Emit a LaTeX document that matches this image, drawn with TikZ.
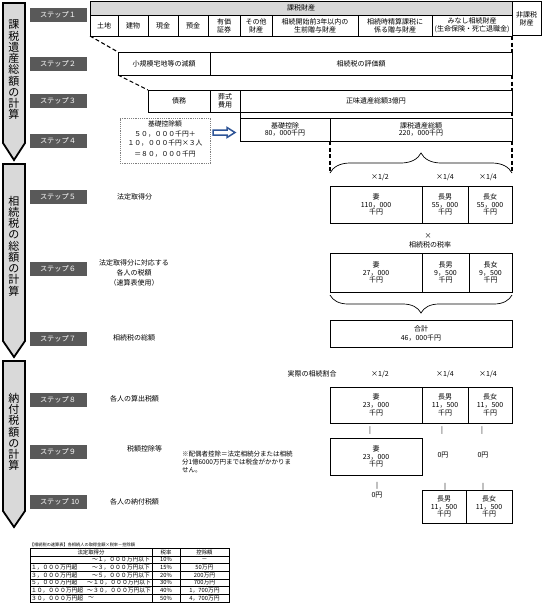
\documentclass[tikz,border=0pt]{standalone}
\usepackage{fontspec}
\setmainfont{Noto Sans CJK JP}
\usetikzlibrary{decorations.pathreplacing}
\definecolor{stepgray}{HTML}{595959}
\definecolor{arrowgray}{HTML}{D9D9D9}
\definecolor{hdrgray}{HTML}{D9D9D9}
\definecolor{arrowblue}{HTML}{2F5597}
\newcommand\fMain{\fontsize{7}{7.8}\selectfont}
\newcommand\fSix{\fontsize{7}{9.8}\selectfont}
\newcommand\fStep{\fontsize{7.2}{8}\selectfont}
\newcommand\fBig{\fontsize{11}{11.25}\selectfont}
\newcommand\fDot{\fontsize{6.8}{10}\selectfont}
\newcommand\fNote{\fontsize{6.5}{8}\selectfont}
\newcommand\fTbl{\fontsize{5.8}{6.5}\selectfont}
\newcommand\fTh{\fontsize{5.4}{6}\selectfont}
\newcommand\fCap{\fontsize{4.2}{5}\selectfont}
\newcommand\mycell[7][]{\node[cellbox,#1,minimum width={(#5-#3)*1pt},minimum height={(#6-#4)*1pt}] (#2) at ({(#3+#5)/2},{(#4+#6)/2}) {#7};}
\begin{document}
\begin{tikzpicture}[x=1pt,y=-1pt,
  every node/.style={inner sep=0pt,outer sep=0pt},
  cellbox/.style={draw=black,line width=0.7pt,align=center,font=\fMain},
  stepbox/.style={fill=stepgray,text=white,font=\fStep,minimum width=57pt,minimum height=14pt,text width=37pt,align=left},
  lbl/.style={font=\fMain,align=center},
  bigarrow/.style={draw=black,line width=1.8pt,fill=arrowgray,line join=miter},
  vtext/.style={font=\fBig,align=center},
  dashln/.style={line width=1.1pt,dash pattern=on 4pt off 2.5pt},
  solidln/.style={line width=0.7pt},
  brc/.style={line width=0.7pt,decorate},
  tcell/.style={draw=black,line width=0.45pt,font=\fTbl,align=center},
  ttxt/.style={font=\fTbl}
]
\fill[white] (0,0) rectangle (542,603);
\useasboundingbox (0,0) rectangle (542,603);

% big left arrows
\draw[bigarrow] (3,3) -- (25,3) -- (25,143) -- (14,160) -- (3,143) -- cycle;
\node[vtext] (v1) at (14,70) {課\\税\\遺\\産\\総\\額\\の\\計\\算};
\draw[bigarrow] (3,164) -- (25,164) -- (25,341) -- (14,357) -- (3,341) -- cycle;
\node[vtext] (v2) at (14,246) {相\\続\\税\\の\\総\\額\\の\\計\\算};
\draw[bigarrow] (3,361) -- (25,361) -- (25,511) -- (14,527) -- (3,511) -- cycle;
\node[vtext] (v3) at (14,432) {納\\付\\税\\額\\の\\計\\算};

% step labels
\node[stepbox] (s1) at (58.5,15) {ステップ１};
\node[stepbox] (s2) at (58.5,63.5) {ステップ２};
\node[stepbox] (s3) at (58.5,100.5) {ステップ３};
\node[stepbox] (s4) at (58.5,141) {ステップ４};
\node[stepbox] (s5) at (58.5,197) {ステップ５};
\node[stepbox] (s6) at (58.5,268.5) {ステップ６};
\node[stepbox] (s7) at (58.5,338.5) {ステップ７};
\node[stepbox] (s8) at (58.5,400) {ステップ８};
\node[stepbox] (s9) at (58.5,451.5) {ステップ９};
\node[stepbox] (s10) at (58.5,501.5) {\mbox{ステップ 10}};

% step 1
\mycell[fill=hdrgray]{hdr}{90}{1.5}{512}{15}{課税財産}
\mycell{hika}{512}{1.5}{541}{35.5}{非課税\\財産}
\mycell{tochi}{90}{15}{118}{36}{土地}
\mycell{tatemono}{118}{15}{148}{36}{建物}
\mycell{genkin}{148}{15}{178}{36}{現金}
\mycell{yokin}{178}{15}{208}{36}{預金}
\mycell{yuka}{208}{15}{240}{36}{有価\\証券}
\mycell{sonota}{240}{15}{272}{36}{その他\\財産}
\mycell{seizen}{272}{15}{358}{36}{相続開始前3年以内の\\生前贈与財産}
\mycell{seisan}{358}{15}{432}{36}{相続時精算課税に\\係る贈与財産}
\mycell{minashi}{432}{15}{512}{36}{みなし相続財産\\(生命保険・死亡退職金)}

% step 2
\mycell{shokibo}{118}{52}{210}{75}{小規模宅地等の減額}
\mycell{hyoka}{210}{52}{512}{75}{相続税の評価額}
\draw[dashln] (tochi.south west) -- (shokibo.north west);
\draw[dashln] (minashi.south east) -- (hyoka.north east);

% step 3
\mycell{saimu}{148}{90}{210}{112}{債務}
\mycell{soshiki}{210}{90}{240}{112}{葬式\\費用}
\mycell{shomi}{240}{90}{512}{112}{正味遺産総額3億円}
\draw[dashln] (shokibo.south west) -- (saimu.north west);
\draw[dashln] (hyoka.south east) -- (shomi.north east);

% step 4
\mycell{kiso}{240}{118}{330}{141}{基礎控除\\80，000千円}
\mycell{kazei}{330}{118}{512}{141}{課税遺産総額\\220，000千円}
\draw[solidln] (soshiki.south east) -- (kiso.north west);
\draw[dashln] (shomi.south east) -- (kazei.north east);
\node[draw=gray,line width=0.8pt,dash pattern=on 1.2pt off 1pt,minimum width=90pt,minimum height=45.5pt] (kisobox) at (165,141) {};
\node[font=\fDot,align=center] (kisotxt) at (165,138.5) {基礎控除額\\５０，０００千円＋\\１０，０００千円×３人\\＝８０，０００千円};
\draw[line width=1.5pt,draw=arrowblue,fill=white,line join=miter] (213,130) -- (227,130) -- (227,127.5) -- (235,132.5) -- (227,137.5) -- (227,135) -- (213,135) -- cycle;

% step 5
\coordinate (b1l) at (330,173);
\coordinate (b1r) at (512,173);
\draw[dashln] (kazei.south west) -- (b1l);
\draw[dashln] (kazei.south east) -- (b1r);
\draw[brc,decoration={brace,amplitude=20pt}] (b1l) -- (b1r);
\node[lbl] (r5a) at (380,177) {×1/2};
\node[lbl] (r5b) at (445,177) {×1/4};
\node[lbl] (r5c) at (488,177) {×1/4};
\mycell{tsuma5}{330}{186}{422}{223}{妻\\110，000\\千円}
\mycell{chonan5}{422}{186}{468}{223}{長男\\55，000\\千円}
\mycell{chojo5}{468}{186}{512}{223}{長女\\55，000\\千円}
\node[lbl,anchor=west] (l5) at (117,197) {法定取得分};

% step 6
\node[lbl] (x6) at (428,236) {×};
\node[lbl] (zeiritsu) at (430,245) {相続税の税率};
\mycell{tsuma6}{330}{253}{422}{292}{妻\\27，000\\千円}
\mycell{chonan6}{422}{253}{469}{292}{長男\\9，500\\千円}
\mycell{chojo6}{469}{253}{512}{292}{長女\\9，500\\千円}
\coordinate (b2r) at (512,295);
\coordinate (b2l) at (330,295);
\draw[brc,decoration={brace,amplitude=18pt}] (b2r) -- (b2l);
\node[font=\fSix,align=center] (l6) at (134,273) {法定取得分に対応する\\各人の税額\\（速算表使用）};

% step 7
\mycell[font=\fSix]{gokei}{330}{320}{512}{347}{合計\\46，000千円}
\node[lbl,anchor=west] (l7) at (113,338) {相続税の総額};

% step 8
\node[lbl] (jissai) at (312,374) {実際の相続割合};
\node[lbl] (r8a) at (380,374) {×1/2};
\node[lbl] (r8b) at (445,374) {×1/4};
\node[lbl] (r8c) at (488,374) {×1/4};
\mycell{tsuma8}{330}{387}{422}{423}{妻\\23，000\\千円}
\mycell{chonan8}{422}{387}{468}{423}{長男\\11，500\\千円}
\mycell{chojo8}{468}{387}{512}{423}{長女\\11，500\\千円}
\node[lbl,anchor=west] (l8) at (110,399) {各人の算出税額};
\node[lbl] (t8a) at (370,431) {|};
\node[lbl] (t8b) at (442,431) {|};
\node[lbl] (t8c) at (482,431) {|};

% step 9
\mycell{tsuma9}{330}{438}{422}{475}{妻\\23，000\\千円}
\node[lbl] (zero9a) at (443,455) {0円};
\node[lbl] (zero9b) at (483,455) {0円};
\node[lbl,anchor=west] (l9) at (127,449) {税額控除等};
\node[font=\fNote,align=left,anchor=north west] (note) at (182,451) {※配偶者控除＝法定相続分または相続\\分1億6000万円までは税金がかかりま\\せん。};

% step 10
\node[lbl] (eq10a) at (377,486) {‖};
\node[lbl] (zero10) at (377,495) {0円};
\node[lbl] (eq10b) at (445,486.5) {‖};
\node[lbl] (eq10c) at (483,486.5) {‖};
\mycell{chonan10}{422}{490}{466}{523}{長男\\11，500\\千円}
\mycell{chojo10}{466}{490}{512}{523}{長女\\11，500\\千円}
\node[lbl,anchor=west] (l10) at (110,502) {各人の納付税額};

% table
\node[font=\fCap,anchor=west] (cap) at (30,544.5) {【相続税の速算表】各相続人の取得金額×税率－控除額};
\mycell[tcell,font=\fTh]{th1}{30}{548}{152}{556}{法定取得分}
\mycell[tcell,font=\fTh]{th2}{152}{548}{180}{556}{税率}
\mycell[tcell,font=\fTh]{th3}{180}{548}{229}{556}{控除額}
\mycell[tcell]{ta1}{30}{556}{152}{563.67}{}
\mycell[tcell]{tb1}{152}{556}{180}{563.67}{10\%}
\mycell[tcell]{tc1}{180}{556}{229}{563.67}{－}
\mycell[tcell]{ta2}{30}{563.67}{152}{571.33}{}
\mycell[tcell]{tb2}{152}{563.67}{180}{571.33}{15\%}
\mycell[tcell]{tc2}{180}{563.67}{229}{571.33}{50万円}
\mycell[tcell]{ta3}{30}{571.33}{152}{579}{}
\mycell[tcell]{tb3}{152}{571.33}{180}{579}{20\%}
\mycell[tcell]{tc3}{180}{571.33}{229}{579}{200万円}
\mycell[tcell]{ta4}{30}{579}{152}{586.67}{}
\mycell[tcell]{tb4}{152}{579}{180}{586.67}{30\%}
\mycell[tcell]{tc4}{180}{579}{229}{586.67}{700万円}
\mycell[tcell]{ta5}{30}{586.67}{152}{594.33}{}
\mycell[tcell]{tb5}{152}{586.67}{180}{594.33}{40\%}
\mycell[tcell]{tc5}{180}{586.67}{229}{594.33}{1，700万円}
\mycell[tcell]{ta6}{30}{594.33}{152}{602}{}
\mycell[tcell]{tb6}{152}{594.33}{180}{602}{50\%}
\mycell[tcell]{tc6}{180}{594.33}{229}{602}{4，700万円}
\node[ttxt,anchor=east] (ta1r) at ([xshift=-2pt]ta1.east) {～１，０００万円以下};
\node[ttxt,anchor=west] (ta2l) at ([xshift=1pt]ta2.west) {１，０００万円超};
\node[ttxt,anchor=east] (ta2r) at ([xshift=-2pt]ta2.east) {～３，０００万円以下};
\node[ttxt,anchor=west] (ta3l) at ([xshift=1pt]ta3.west) {３，０００万円超};
\node[ttxt,anchor=east] (ta3r) at ([xshift=-2pt]ta3.east) {～５，０００万円以下};
\node[ttxt,anchor=west] (ta4l) at ([xshift=1pt]ta4.west) {５，０００万円超};
\node[ttxt,anchor=east] (ta4r) at ([xshift=-1pt]ta4.east) {～１０，０００万円以下};
\node[ttxt,anchor=west] (ta5l) at ([xshift=1pt]ta5.west) {１０，０００万円超};
\node[ttxt,anchor=east] (ta5r) at ([xshift=-1pt]ta5.east) {～３０，０００万円以下};
\node[ttxt,anchor=west] (ta6l) at ([xshift=1pt]ta6.west) {３０，０００万円超};
\node[ttxt,anchor=west] (ta6r) at (88,598.2) {～};
\end{tikzpicture}
\end{document}
